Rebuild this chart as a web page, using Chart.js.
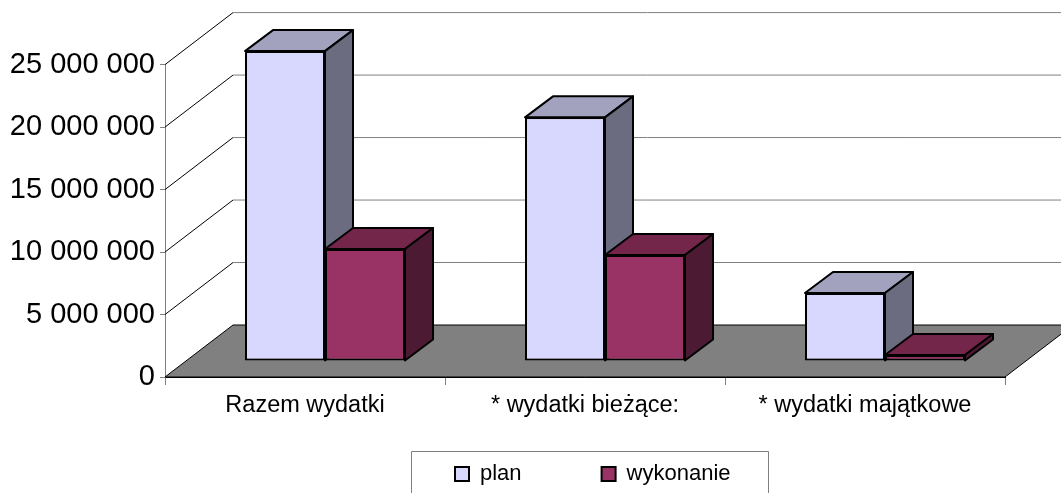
<!DOCTYPE html>
<html>
<head>
<meta charset="utf-8">
<title>Wydatki</title>
<script src="https://cdn.jsdelivr.net/npm/chart.js@4"></script>
<style>
  html, body { margin: 0; padding: 0; background: #ffffff; overflow: hidden; }
  canvas { display: block; }
</style>
</head>
<body>
<canvas id="chart" width="1061" height="493"></canvas>
<script>
const categories = ["Razem wydatki", "* wydatki bieżące:", "* wydatki majątkowe"]
const planValues = [24800000, 19500000, 5440000]
const wykonanieValues = [8960000, 8480000, 480000]
const yTicks = [0, 5000000, 10000000, 15000000, 20000000, 25000000]

// przesunięcia "głębi" wykresu 3D
const wallDepth = { x: 68, y: -52 }
const barFront = { x: 20, y: -16 }
const barDepth = { x: 28, y: -21 }

const faceColors = [
  { top: "#a2a2bf", side: "#6c6c80" },
  { top: "#732649", side: "#4d1a33" },
]

function face(ctx, points, fill) {
  ctx.beginPath()
  points.forEach((p, i) => (i ? ctx.lineTo(p[0], p[1]) : ctx.moveTo(p[0], p[1])))
  ctx.closePath()
  if (fill) {
    ctx.fillStyle = fill
    ctx.fill()
  }
  ctx.stroke()
}

function drawWalls(chart) {
  const ctx = chart.ctx
  const { left, right, bottom } = chart.chartArea
  const y = chart.scales.y
  ctx.save()
  ctx.lineWidth = 1
  ctx.strokeStyle = "#000000"
  // podłoga
  face(ctx, [
    [left, bottom],
    [left + wallDepth.x, bottom + wallDepth.y],
    [right + wallDepth.x, bottom + wallDepth.y],
    [right, bottom],
  ], "#808080")
  // siatka na ścianach
  yTicks.slice(1).forEach((value) => {
    const py = y.getPixelForValue(value)
    ctx.strokeStyle = "#000000"
    ctx.beginPath()
    ctx.moveTo(left, py)
    ctx.lineTo(left + wallDepth.x, py + wallDepth.y)
    ctx.stroke()
    ctx.strokeStyle = "#808080"
    ctx.beginPath()
    ctx.moveTo(left + wallDepth.x, py + wallDepth.y)
    ctx.lineTo(right + wallDepth.x, py + wallDepth.y)
    ctx.stroke()
  })
  ctx.restore()
}

function drawBarFaces(ctx, meta, colors) {
  ctx.lineWidth = 2
  ctx.lineJoin = "round"
  ctx.strokeStyle = "#000000"
  meta.data.forEach((bar) => {
    const x0 = bar.x - bar.width / 2
    const x1 = bar.x + bar.width / 2
    face(ctx, [
      [x0, bar.y],
      [x0 + barDepth.x, bar.y + barDepth.y],
      [x1 + barDepth.x, bar.y + barDepth.y],
      [x1, bar.y],
    ], colors.top)
    face(ctx, [
      [x1, bar.y],
      [x1 + barDepth.x, bar.y + barDepth.y],
      [x1 + barDepth.x, bar.base + barDepth.y],
      [x1, bar.base],
    ], colors.side)
  })
}

const plot3d = {
  id: "plot3d",
  afterLayout(chart) {
    // legenda w ramce, pod osią
    const legend = chart.legend
    legend.left = 375
    legend.right = 1061
    legend.top = 383
    legend.bottom = 493
  },
  beforeDatasetsDraw(chart) {
    const ctx = chart.ctx
    drawWalls(chart)
    // plan najpierw, wykonanie na wierzchu (Chart.js rysuje odwrotnie)
    chart.data.datasets.forEach((ds, i) => {
      const meta = chart.getDatasetMeta(i)
      ctx.save()
      ctx.translate(barFront.x, barFront.y)
      drawBarFaces(ctx, meta, faceColors[i])
      meta.controller.draw()
      ctx.restore()
    })
    return false
  },
  afterDraw(chart) {
    // ramka legendy
    const ctx = chart.ctx
    ctx.save()
    ctx.strokeStyle = "#808080"
    ctx.lineWidth = 1
    ctx.beginPath()
    ctx.moveTo(411.5, 493)
    ctx.lineTo(411.5, 451.5)
    ctx.lineTo(768.5, 451.5)
    ctx.lineTo(768.5, 493)
    ctx.stroke()
    ctx.restore()
  },
}

new Chart(document.getElementById("chart").getContext("2d"), {
  type: "bar",
  data: {
    labels: categories,
    datasets: [
      { label: "plan", data: planValues, backgroundColor: "#d8d8ff" },
      { label: "wykonanie", data: wykonanieValues, backgroundColor: "#993366" },
    ].map((ds) => ({
      ...ds,
      borderColor: "#000000",
      borderWidth: 2,
      borderSkipped: false,
      categoryPercentage: 160 / 280,
      barPercentage: 1,
    })),
  },
  options: {
    responsive: false,
    animation: false,
    layout: { padding: { top: 64.6, right: 56, left: 0, bottom: 0 } },
    scales: {
      x: {
        afterFit: (scale) => { scale.height = 74 },
        grid: { drawOnChartArea: false, color: "#808080", tickLength: 8 },
        border: { color: "#000000" },
        ticks: { color: "#000000", font: { family: "Liberation Sans", size: 23.5 }, padding: 6, maxRotation: 0, autoSkip: false },
      },
      y: {
        min: 0,
        max: 25000000,
        afterFit: (scale) => { scale.width = 165 },
        afterBuildTicks: (scale) => { scale.ticks = yTicks.map((value) => ({ value })) },
        grid: { drawOnChartArea: false, color: "#808080", tickLength: 5 },
        border: { color: "#808080" },
        ticks: {
          color: "#000000",
          font: { family: "Liberation Sans", size: 29 },
          padding: 5,
          callback: (value) => String(value).replace(/\B(?=(\d{3})+$)/g, " "),
        },
      },
    },
    plugins: {
      tooltip: { enabled: false },
      title: { display: false },
      legend: {
        position: "bottom",
        align: "start",
        maxHeight: 42,
        labels: {
          color: "#000000",
          boxWidth: 14,
          boxHeight: 14,
          padding: 80,
          font: { family: "Liberation Sans", size: 22 },
        },
      },
    },
  },
  plugins: [plot3d],
})
</script>
</body>
</html>
